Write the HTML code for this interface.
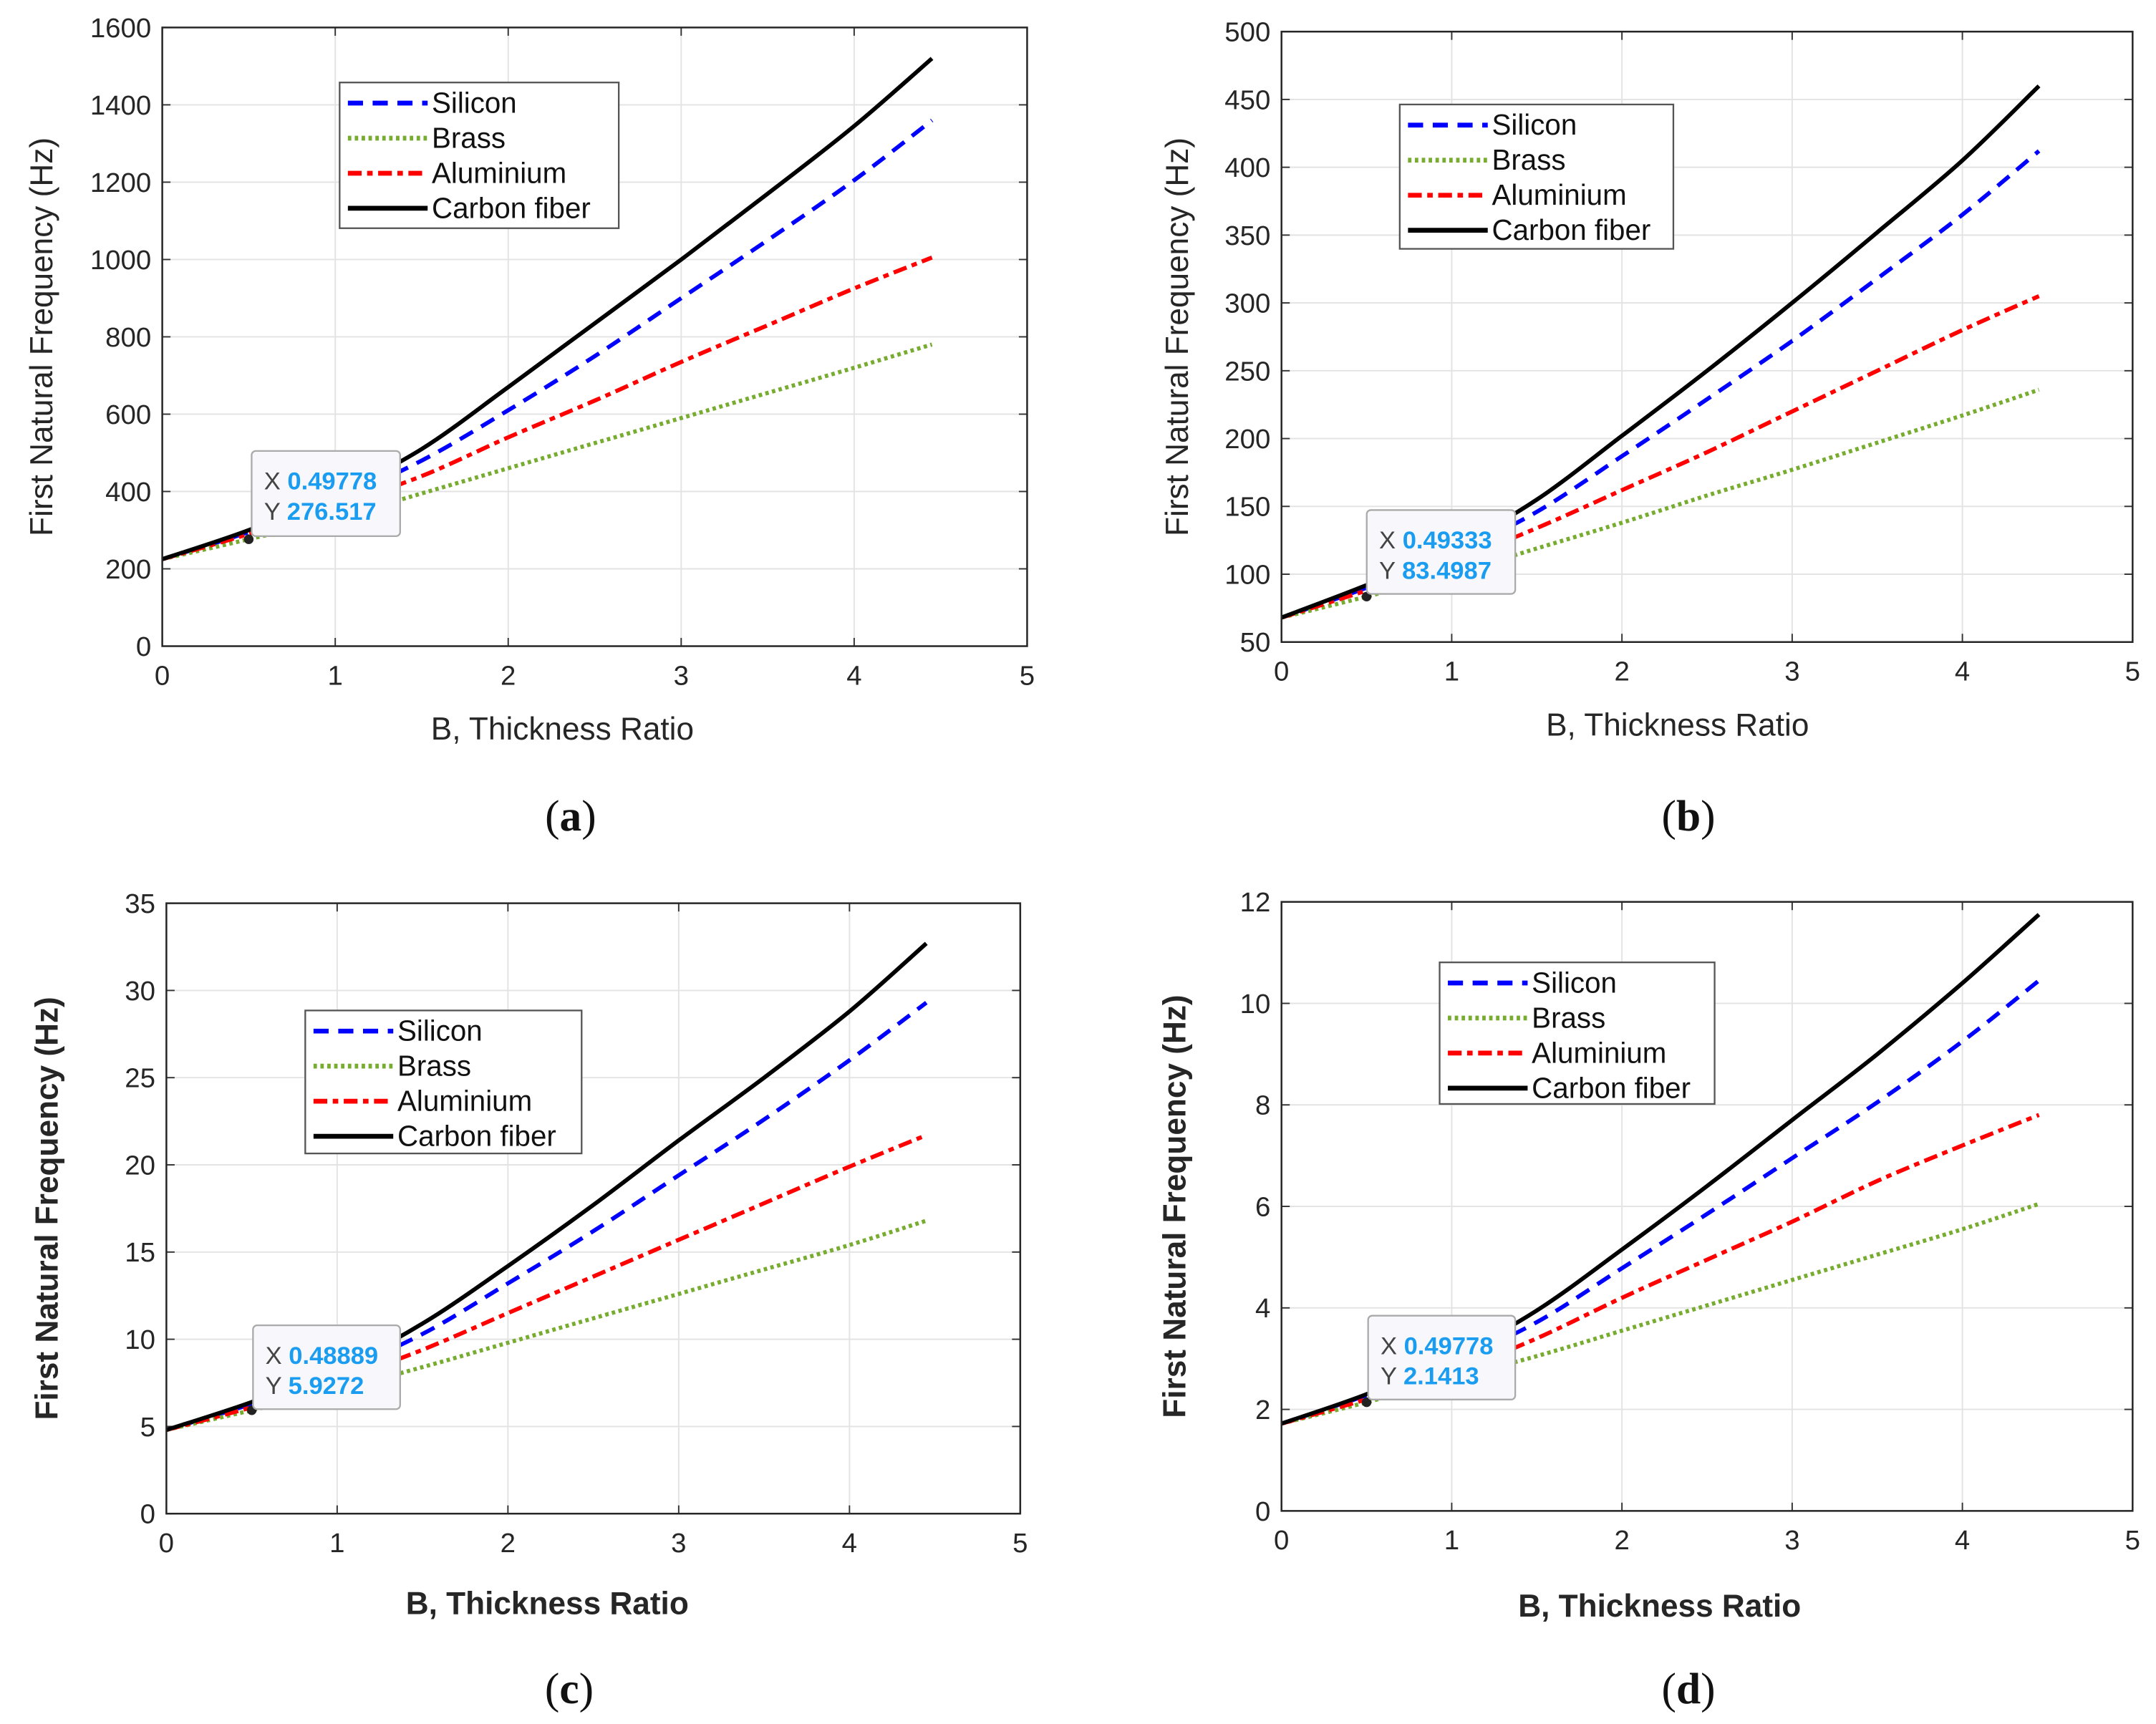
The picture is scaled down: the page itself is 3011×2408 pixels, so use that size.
<!DOCTYPE html>
<html><head><meta charset="utf-8"><style>
html,body{margin:0;padding:0;background:#fff;}
svg{display:block;}
text{font-family:"Liberation Sans",sans-serif;}
</style></head>
<body>
<svg id="fig" width="3011" height="2408" viewBox="0 0 1568 1254" xmlns="http://www.w3.org/2000/svg"></svg>
<script>
const xs = [0, 0.5, 1, 1.5, 2, 2.5, 3, 3.5, 4, 4.45];
const seriesNames = ["Silicon", "Brass", "Aluminium", "Carbon fiber"];
// panel a
const siliconA = [225, 295, 378, 480, 610, 750, 900, 1050, 1205, 1360];
const brassA = [225, 276.5, 330, 395, 460, 525, 590, 655, 720, 780];
const aluminiumA = [225, 290, 362, 440, 540, 635, 735, 830, 925, 1005];
const carbonA = [225, 300, 392, 510, 670, 835, 1000, 1170, 1345, 1520];
const yTicksA = [0, 200, 400, 600, 800, 1000, 1200, 1400, 1600];
// panel b
const siliconB = [68, 90, 115, 146, 187, 229, 272, 318, 365, 412];
const brassB = [68, 83.5, 100, 119, 138, 158, 177, 197, 217, 236];
const aluminiumB = [68, 88, 109, 134, 162, 190, 220, 250, 280, 305];
const carbonB = [68, 92, 119, 155, 202, 250, 300, 352, 405, 460];
const yTicksB = [50, 100, 150, 200, 250, 300, 350, 400, 450, 500];
// panel c
const siliconC = [4.8, 6.3, 8.1, 10.3, 13.2, 16.2, 19.4, 22.6, 26, 29.3];
const brassC = [4.8, 5.93, 7.1, 8.4, 9.8, 11.2, 12.6, 14, 15.4, 16.8];
const aluminiumC = [4.8, 6.1, 7.6, 9.4, 11.5, 13.6, 15.7, 17.8, 19.9, 21.7];
const carbonC = [4.8, 6.4, 8.3, 10.9, 14.2, 17.7, 21.4, 25, 28.8, 32.7];
const yTicksC = [0, 5, 10, 15, 20, 25, 30, 35];
// panel d
const siliconD = [1.72, 2.28, 2.93, 3.72, 4.78, 5.85, 6.95, 8.05, 9.25, 10.45];
const brassD = [1.72, 2.14, 2.6, 3.05, 3.55, 4.05, 4.55, 5.05, 5.55, 6.05];
const aluminiumD = [1.72, 2.2, 2.73, 3.4, 4.2, 4.95, 5.7, 6.5, 7.2, 7.8];
const carbonD = [1.72, 2.3, 3.02, 3.95, 5.15, 6.4, 7.7, 9.0, 10.4, 11.75];
const yTicksD = [0, 2, 4, 6, 8, 10, 12];
const xTicks = [0, 1, 2, 3, 4, 5];
const tipX = ["0.49778", "0.49333", "0.48889", "0.49778"];
const tipY = ["276.517", "83.4987", "5.9272", "2.1413"];

const NS = "http://www.w3.org/2000/svg";
const fig = document.getElementById('fig');
function mk(tag, attrs, parent) {
  const e = document.createElementNS(NS, tag);
  for (const k in attrs) e.setAttribute(k, attrs[k]);
  (parent || fig).appendChild(e);
  return e;
}
function smooth(pts) {
  let d = 'M' + pts[0][0].toFixed(1) + ',' + pts[0][1].toFixed(1);
  for (let i = 0; i < pts.length - 1; i++) {
    const p0 = pts[Math.max(0, i-1)], p1 = pts[i], p2 = pts[i+1], p3 = pts[Math.min(pts.length-1, i+2)];
    const c1x = p1[0] + (p2[0]-p0[0])/6, c1y = p1[1] + (p2[1]-p0[1])/6;
    const c2x = p2[0] - (p3[0]-p1[0])/6, c2y = p2[1] - (p3[1]-p1[1])/6;
    d += ' C' + c1x.toFixed(1) + ',' + c1y.toFixed(1) + ' ' + c2x.toFixed(1) + ',' + c2y.toFixed(1) + ' ' + p2[0].toFixed(1) + ',' + p2[1].toFixed(1);
  }
  return d;
}
const styles = [
  {stroke:"#0000ff", dash:"11,7", w:3},
  {stroke:"#77ac30", dash:"2.5,2.5", w:3},
  {stroke:"#ff0000", dash:"10,4,4,4", w:3},
  {stroke:"#000000", dash:"", w:3}
];
const panels = [
  {id:"a", L:118, R:747, T:20, B:470, yt:yTicksA, data:[siliconA,brassA,aluminiumA,carbonA], bold:false,
   leg:[247,60,203,106], tip:[183,328,108,62], xl:[409,530], pl:[415,593], ylx:38},
  {id:"b", L:932, R:1551, T:23, B:467, yt:yTicksB, data:[siliconB,brassB,aluminiumB,carbonB], bold:false,
   leg:[1018,76,199,105], tip:[994,371,108,61], xl:[1220,527], pl:[1228,593], ylx:864},
  {id:"c", L:121, R:742, T:657, B:1101, yt:yTicksC, data:[siliconC,brassC,aluminiumC,carbonC], bold:true,
   leg:[222,735,201,104], tip:[184,964,107,61], xl:[398,1166], pl:[414,1228], ylx:42},
  {id:"d", L:932, R:1551, T:656, B:1099, yt:yTicksD, data:[siliconD,brassD,aluminiumD,carbonD], bold:true,
   leg:[1047,700,200,103], tip:[995,957,107,61], xl:[1207,1168], pl:[1228,1228], ylx:862}
];
panels.forEach((p, pi) => {
  const g = mk('g', {});
  
  
  const y0 = p.yt[0], y1 = p.yt[p.yt.length-1];
  const sx = v => p.L + (v - 0) / 5 * (p.R - p.L);
  const sy = v => p.B - (v - y0) / (y1 - y0) * (p.B - p.T);
  xTicks.forEach(t => {
    const l = mk('line', {x1:sx(t), x2:sx(t), y1:p.T, y2:p.B, stroke:"#e3e3e3", "stroke-width":1}, g);
    
    
  });
  p.yt.forEach(t => {
    const l = mk('line', {x1:p.L, x2:p.R, y1:sy(t), y2:sy(t), stroke:"#e3e3e3", "stroke-width":1}, g);
    
    
  });
  xTicks.forEach(t => {
    mk('line', {x1:sx(t), x2:sx(t), y1:p.B, y2:p.B-6, stroke:"#333", "stroke-width":1}, g);
    mk('line', {x1:sx(t), x2:sx(t), y1:p.T, y2:p.T+6, stroke:"#333", "stroke-width":1}, g);
    const tx = mk('text', {x:sx(t), y:p.B+28, "text-anchor":"middle", "font-size":20, fill:"#262626"}, g);
    tx.textContent = t;
    
    
  });
  p.yt.forEach(t => {
    mk('line', {x1:p.L, x2:p.L+6, y1:sy(t), y2:sy(t), stroke:"#333", "stroke-width":1}, g);
    mk('line', {x1:p.R, x2:p.R-6, y1:sy(t), y2:sy(t), stroke:"#333", "stroke-width":1}, g);
    const tx = mk('text', {x:p.L-8, y:sy(t)+7, "text-anchor":"end", "font-size":20, fill:"#262626"}, g);
    tx.textContent = t;
    
    
  });
  p.data.forEach((arr, si) => {
    const pts = arr.map((v, i) => [sx(xs[i]), sy(v)]);
    const s = styles[si];
    const path = mk('path', {d:smooth(pts), fill:"none", stroke:s.stroke, "stroke-width":s.w, "stroke-dasharray":s.dash}, g);
    
    
  });
  const box = mk('rect', {x:p.L, y:p.T, width:p.R-p.L, height:p.B-p.T, fill:"none", stroke:"#262626", "stroke-width":1.3}, g);
  
  
  const dot = mk('circle', {cx:sx(xs[1]), cy:sy(p.data[1][1]), r:3.5, fill:"#222"}, g);
  
  
  const tg = mk('g', {}, g);
  
  
  mk('rect', {x:p.tip[0], y:p.tip[1], width:p.tip[2], height:p.tip[3], rx:3, fill:"#f8f8fc", stroke:"#aaa", "stroke-width":1.2}, tg);
  const t1 = mk('text', {x:p.tip[0]+9, y:p.tip[1]+28, "font-size":18, fill:"#444"}, tg);
  t1.innerHTML = 'X <tspan fill="#1a9cf0" font-weight="bold">' + tipX[pi] + '</tspan>';
  const t2 = mk('text', {x:p.tip[0]+9, y:p.tip[1]+50, "font-size":18, fill:"#444"}, tg);
  t2.innerHTML = 'Y <tspan fill="#1a9cf0" font-weight="bold">' + tipY[pi] + '</tspan>';
  const lg = mk('g', {}, g);
  
  
  mk('rect', {x:p.leg[0], y:p.leg[1], width:p.leg[2], height:p.leg[3], fill:"#fff", stroke:"#555", "stroke-width":1.2}, lg);
  seriesNames.forEach((n, si) => {
    const yy = p.leg[1] + 15 + si * 25.5;
    const s = styles[si];
    const ll = mk('line', {x1:p.leg[0]+6, x2:p.leg[0]+64, y1:yy, y2:yy, stroke:s.stroke, "stroke-width":3.5, "stroke-dasharray":s.dash}, lg);
    
    
    const lt = mk('text', {x:p.leg[0]+67, y:yy+7, "font-size":21, fill:"#111"}, lg);
    lt.textContent = n;
    
    
  });
  const xl = mk('text', {x:p.xl[0], y:p.xl[1]+8, "text-anchor":"middle", "font-size":23, fill:"#262626", "font-weight":p.bold?"bold":"normal"}, g);
  xl.textContent = "B, Thickness Ratio";
  
  
  const cy = (p.T + p.B) / 2;
  const yl = mk('text', {x:p.ylx, y:cy, "text-anchor":"middle", "font-size":23, fill:"#262626", "font-weight":p.bold?"bold":"normal", transform:"rotate(-90 " + p.ylx + " " + cy + ")"}, g);
  yl.textContent = "First Natural Frequency (Hz)";
  
  
  const pl = mk('text', {x:p.pl[0], y:p.pl[1]+11, "text-anchor":"middle", "font-size":32, fill:"#111", style:'font-family:"Liberation Serif",serif'}, g);
  pl.innerHTML = '(<tspan font-weight="bold">' + p.id + '</tspan>)';
  
  
});
</script>
</body></html>
